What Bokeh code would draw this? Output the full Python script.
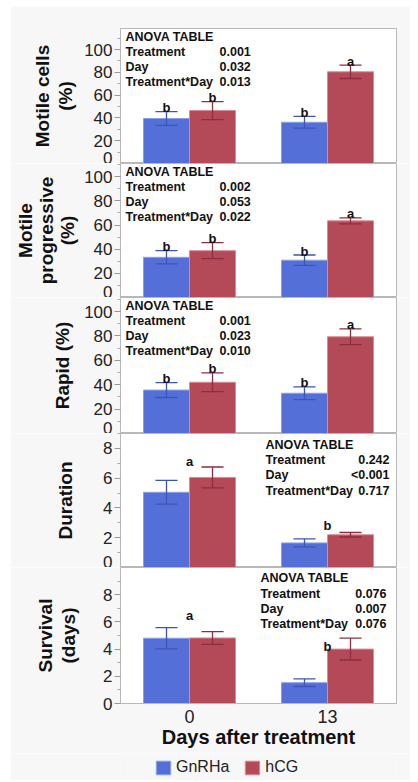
from bokeh.plotting import figure
from bokeh.layouts import column
from bokeh.models import (FactorRange, Range1d, FixedTicker, ColumnDataSource, Label,
                          Legend, LegendItem)
from bokeh.transform import dodge
from bokeh.core.properties import value
from bokeh.embed import file_html
from bokeh.resources import INLINE

# ---------------- data ----------------
days = ["0", "13"]
groups = ["GnRHa", "hCG"]

motile_gnrha = [39.5, 36.2]
motile_gnrha_se = [6.0, 5.1]
motile_hcg = [46.5, 80.5]
motile_hcg_se = [7.9, 5.9]
motile_letters_gnrha = ["b", "b"]
motile_letters_hcg = ["b", "a"]
motile_anova = ["0.001", "0.032", "0.013"]

prog_gnrha = [33.3, 30.9]
prog_gnrha_se = [5.5, 4.3]
prog_hcg = [38.8, 63.5]
prog_hcg_se = [6.6, 2.5]
prog_letters_gnrha = ["b", "b"]
prog_letters_hcg = ["b", "a"]
prog_anova = ["0.002", "0.053", "0.022"]

rapid_gnrha = [35.6, 33.0]
rapid_gnrha_se = [6.1, 5.2]
rapid_hcg = [42.0, 79.3]
rapid_hcg_se = [7.7, 6.5]
rapid_letters_gnrha = ["b", "b"]
rapid_letters_hcg = ["b", "a"]
rapid_anova = ["0.001", "0.023", "0.010"]

dur_gnrha = [5.05, 1.65]
dur_gnrha_se = [0.8, 0.27]
dur_hcg = [6.05, 2.2]
dur_hcg_se = [0.7, 0.15]
dur_group_letters = ["a", "b"]
dur_group_letter_y = [7.15, 2.85]
dur_anova = ["0.242", "<0.001", "0.717"]

surv_gnrha = [4.8, 1.53]
surv_gnrha_se = [0.78, 0.28]
surv_hcg = [4.82, 4.0]
surv_hcg_se = [0.47, 0.8]
surv_group_letters = ["a", "b"]
surv_group_letter_y = [6.5, 4.2]
surv_anova = ["0.076", "0.007", "0.076"]

anova_terms = ["Treatment", "Day", "Treatment*Day"]
pct_ticks = [0, 20, 40, 60, 80, 100]
pct_minor = [10, 30, 50, 70, 90, 110]
cnt_ticks = [0, 2, 4, 6, 8]
cnt_minor = [1, 3, 5, 7, 9]

# ---------------- style ----------------
FONT = "Liberation Sans"
BG = "#f7f7f7"
BLUE = "#5470d8"
RED = "#b44a58"
BLUE_EDGE = "#8c9ee8"
RED_EDGE = "#d98c98"
BLUE_ERR = "#3c54b8"
RED_ERR = "#8a2e40"
FRAME = "#b8b8b8"
OFF = 1 / 6
CAP = 0.08


def bar_source(gn, gn_se, hc, hc_se):
    return ColumnDataSource(dict(
        day=days, gn=gn, hc=hc,
        gn_lo=[m - s for m, s in zip(gn, gn_se)], gn_hi=[m + s for m, s in zip(gn, gn_se)],
        hc_lo=[m - s for m, s in zip(hc, hc_se)], hc_hi=[m + s for m, s in zip(hc, hc_se)],
    ))


def add_bars(p, xr, src, shift=0.0):
    r_gn = p.vbar(x=dodge("day", -OFF + shift, range=xr), top="gn", width=2 * OFF, source=src,
                  fill_color=BLUE, line_color=BLUE_EDGE, line_width=1)
    r_hc = p.vbar(x=dodge("day", OFF + shift, range=xr), top="hc", width=2 * OFF, source=src,
                  fill_color=RED, line_color=RED_EDGE, line_width=1)
    return r_gn, r_hc


def make_panel(ylabel, ymax, ticks, minor, height, gn, gn_se, hc, hc_se, anova,
               top=0, bottom=0, xaxis=False, bar_letters=None, group_letters=None,
               anova_pos=None, lh=1.08, standoff=7):
    xr = FactorRange(factors=days)
    p = figure(x_range=xr, y_range=Range1d(0, ymax), width=400, height=height,
               output_backend="svg", toolbar_location=None,
               x_axis_location="below" if xaxis else None,
               min_border_left=110, min_border_right=14,
               min_border_top=top, min_border_bottom=bottom,
               background_fill_color="white", border_fill_color=BG,
               outline_line_color=FRAME, outline_line_width=1)
    p.grid.visible = False
    src = bar_source(gn, gn_se, hc, hc_se)
    add_bars(p, xr, src)
    for off, lo, hi, col in [(-OFF, "gn_lo", "gn_hi", BLUE_ERR), (OFF, "hc_lo", "hc_hi", RED_ERR)]:
        p.segment(x0=dodge("day", off, range=xr), x1=dodge("day", off, range=xr),
                  y0=lo, y1=hi, source=src, line_color=col, line_width=1.3)
        for end in (lo, hi):
            p.segment(x0=dodge("day", off - CAP, range=xr), x1=dodge("day", off + CAP, range=xr),
                      y0=end, y1=end, source=src, line_color=col, line_width=1.3)
    if bar_letters is not None:
        src.data["gn_let"] = bar_letters[0]
        src.data["hc_let"] = bar_letters[1]
        for off, hi, let in [(-OFF, "gn_hi", "gn_let"), (OFF, "hc_hi", "hc_let")]:
            p.text(x=dodge("day", off, range=xr), y=hi, text=let, source=src,
                   text_align="center", text_baseline="alphabetic", y_offset=-4,
                   text_font=value(FONT), text_font_style="bold", text_font_size="13px",
                   text_color="#111111")
    if group_letters is not None:
        lsrc = ColumnDataSource(dict(day=days, txt=group_letters[0], y=group_letters[1]))
        p.text(x="day", y="y", text="txt", source=lsrc, text_align="center",
               text_baseline="alphabetic", text_font=value(FONT), text_font_style="bold",
               text_font_size="13px", text_color="#111111")

    # y axis
    ax = p.yaxis[0]
    ax.ticker = FixedTicker(ticks=ticks, minor_ticks=minor)
    ax.axis_label = ylabel
    ax.axis_label_text_font = FONT
    ax.axis_label_text_font_style = "bold"
    ax.axis_label_text_font_size = "19px"
    ax.axis_label_text_line_height = lh
    ax.axis_label_standoff = standoff
    ax.axis_label_text_color = "#111111"
    ax.major_label_text_font = FONT
    ax.major_label_text_font_size = "17px"
    ax.major_label_text_color = "#222222"
    ax.major_label_standoff = 2
    ax.axis_line_color = FRAME
    ax.major_tick_line_color = "#999999"
    ax.minor_tick_line_color = "#aaaaaa"
    ax.major_tick_in = 0
    ax.major_tick_out = 6
    ax.minor_tick_in = 0
    ax.minor_tick_out = 3

    if xaxis:
        xa = p.xaxis[0]
        xa.axis_label = "Days after treatment"
        xa.axis_label_text_font = FONT
        xa.axis_label_text_font_style = "bold"
        xa.axis_label_text_font_size = "20px"
        xa.axis_label_text_color = "#111111"
        xa.axis_label_standoff = 0
        xa.major_label_text_font = FONT
        xa.major_label_text_font_size = "18px"
        xa.major_label_text_color = "#222222"
        xa.major_label_standoff = 0
        xa.major_tick_line_color = None
        xa.minor_tick_line_color = None
        xa.axis_line_color = FRAME

    # ANOVA table (screen units relative to the frame)
    fh = height - top - bottom
    if anova_pos is not None:
        x_name, x_val, tops = anova_pos
        val_align = "right"
    else:
        x_name, x_val, val_align = 5, 99, "left"
        tops = [8, 23, 38, 53]
    common = dict(x_units="screen", y_units="screen", text_font=FONT, text_font_style="bold",
                  text_font_size="12.5px", text_baseline="middle", text_color="#111111")
    p.add_layout(Label(x=x_name, y=fh - tops[0], text="ANOVA TABLE", **common))
    for i, (term, pv) in enumerate(zip(anova_terms, anova)):
        p.add_layout(Label(x=x_name, y=fh - tops[i + 1], text=term, **common))
        p.add_layout(Label(x=x_val, y=fh - tops[i + 1], text=pv, text_align=val_align, **common))
    return p


p1 = make_panel("Motile cells\n(%)", 118.5, pct_ticks, pct_minor, 157,
                motile_gnrha, motile_gnrha_se, motile_hcg, motile_hcg_se, motile_anova,
                top=22, bar_letters=(motile_letters_gnrha, motile_letters_hcg),
                lh=1.08, standoff=5)
p2 = make_panel("Motile\nprogressive\n(%)", 111, pct_ticks, pct_minor, 134,
                prog_gnrha, prog_gnrha_se, prog_hcg, prog_hcg_se, prog_anova,
                bar_letters=(prog_letters_gnrha, prog_letters_hcg), lh=1.0, standoff=3)
p3 = make_panel("Rapid (%)", 111.5, pct_ticks, pct_minor, 136,
                rapid_gnrha, rapid_gnrha_se, rapid_hcg, rapid_hcg_se, rapid_anova,
                bar_letters=(rapid_letters_gnrha, rapid_letters_hcg), standoff=8)
p4 = make_panel("Duration", 9, cnt_ticks, cnt_minor, 134,
                dur_gnrha, dur_gnrha_se, dur_hcg, dur_hcg_se, dur_anova,
                group_letters=(dur_group_letters, dur_group_letter_y),
                anova_pos=(145, 269, [11, 26, 41, 57]), standoff=24)
p5 = make_panel("Survival\n(days)", 10, cnt_ticks, cnt_minor, 186,
                surv_gnrha, surv_gnrha_se, surv_hcg, surv_hcg_se, surv_anova,
                bottom=50, xaxis=True,
                group_letters=(surv_group_letters, surv_group_letter_y),
                anova_pos=(140, 266, [10, 26, 41, 56]), lh=1.08, standoff=21)

# legend strip: hidden bar renderers (placed outside the view) only provide the swatches
xr6 = FactorRange(factors=days)
p6 = figure(x_range=xr6, y_range=Range1d(1000, 1001), width=400, height=27,
            output_backend="svg", toolbar_location=None,
            x_axis_location=None, y_axis_location=None,
            min_border_left=110, min_border_right=14, min_border_top=0, min_border_bottom=0,
            background_fill_color=BG, border_fill_color=BG, outline_line_color=None)
p6.grid.visible = False
r_gn, r_hc = add_bars(p6, xr6, bar_source(surv_gnrha, surv_gnrha_se, surv_hcg, surv_hcg_se),
                      shift=20.0)
r_gn.visible = False
r_hc.visible = False
legend = Legend(items=[LegendItem(label=groups[0], renderers=[r_gn]),
                       LegendItem(label=groups[1], renderers=[r_hc])],
                orientation="horizontal", location=(34, 4), border_line_color=None,
                background_fill_alpha=0, glyph_width=18, glyph_height=17,
                inactive_fill_alpha=0,
                label_text_font=FONT, label_text_font_size="16px", label_text_color="#222222",
                label_standoff=4, spacing=14, padding=0, margin=0)
p6.add_layout(legend, "center")

layout = column(p1, p2, p3, p4, p5, p6, spacing=0, margin=(6, 0, 0, 10))
open("out.html", "w").write(file_html(layout, INLINE))
